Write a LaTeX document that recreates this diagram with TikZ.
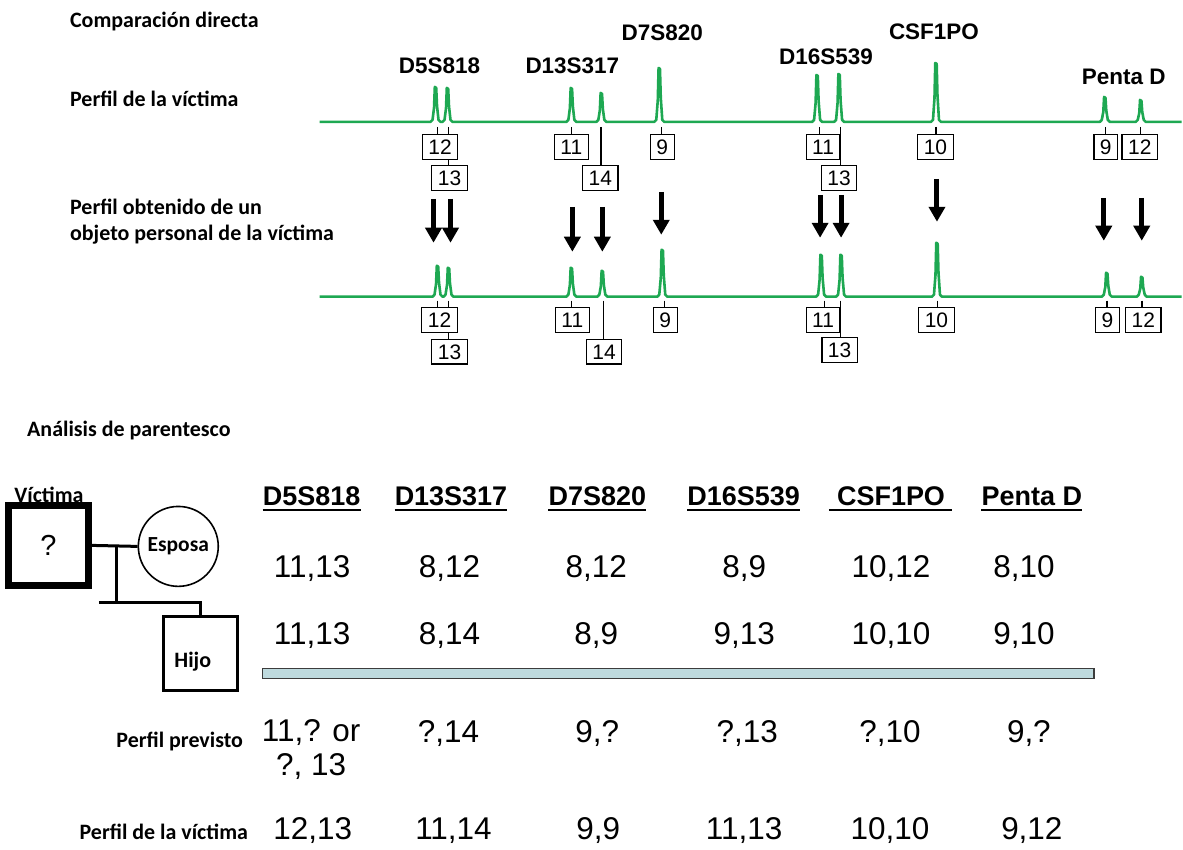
\documentclass[tikz,border=0pt]{standalone}
\usepackage{fontspec}
\setmainfont{Liberation Sans}
\newfontfamily\calibri{Carlito}
\usetikzlibrary{arrows.meta}
\definecolor{tracegreen}{RGB}{30,168,82}
\definecolor{barfill}{RGB}{190,218,222}
\definecolor{bardraw}{RGB}{60,60,60}
\pgfdeclarelayer{bg}
\pgfsetlayers{bg,main}
\begin{document}
\begin{tikzpicture}[x=1pt,y=-1pt,
 lab/.style={font=\calibri\bfseries\fontsize{22}{26}\selectfont, inner sep=0pt, align=left},
 marker/.style={font=\bfseries\fontsize{22.5}{24}\selectfont, inner sep=0pt, anchor=base},
 allele/.style={draw, line width=1.2pt, fill=white, font=\fontsize{21}{21}\selectfont, text height=15pt, text depth=0pt, minimum height=25pt, inner xsep=6pt, inner ysep=0pt},
 tickline/.style={line width=1.2pt},
 tracel/.style={draw=tracegreen, line width=2.6pt, line join=round},
 bigarrow/.style={line width=5pt, -{Triangle[width=16pt,length=15pt]}},
 hdr/.style={font=\bfseries\fontsize{27}{27}\selectfont, inner sep=0pt, anchor=base},
 val/.style={font=\fontsize{31.5}{34}\selectfont, inner sep=0pt, anchor=base, align=center},
 ped/.style={line width=3pt},
]
\begin{pgfonlayer}{bg}
\useasboundingbox[fill=white] (0,0) rectangle (1183,850);
\end{pgfonlayer}

% ---------- titles and labels ----------
\node[lab, anchor=base west] (t1) at (70,27.5) {Comparación directa};
\node[lab, anchor=base west] (t2) at (70,107) {Perfil de la víctima};
\node[lab, anchor=base west] (t3) at (70,240.7) {Perfil obtenido de un\\objeto personal de la víctima};
\node[lab, anchor=base west] (t4) at (27,437) {Análisis de parentesco};

% ---------- marker names ----------
\node[marker] (m1) at (440,73.3) {D5S818};
\node[marker] (m2) at (573,73.3) {D13S317};
\node[marker] (m3) at (663,41) {D7S820};
\node[marker] (m4) at (827,65) {D16S539};
\node[marker] (m5) at (935,40) {CSF1PO};
\node[marker] (m6) at (1125,85) {Penta D};

% ---------- traces ----------
\draw[tracel] (320,122)
 foreach \x/\t in {436/87,448/88,572/88,602/93,660/68,818/75,840/74,937/63,1106/97,1142/100}
 { -- ({\x-5},122) -- ({\x-3},120) -- ({\x-1.5},{122-0.4*(122-\t)}) -- ({\x-0.7},\t) -- ({\x+0.7},{\t+1}) -- ({\x+1.5},{122-0.45*(122-\t)}) -- ({\x+3},120) -- ({\x+5},122) }
 -- (1183,122);
\draw[tracel] (320,297)
 foreach \x/\t in {438/266,449/268,572/268,603/271,663/250,822/255,842/255,938/243,1108/273,1143/277}
 { -- ({\x-5},297) -- ({\x-3},295) -- ({\x-1.5},{297-0.4*(297-\t)}) -- ({\x-0.7},\t) -- ({\x+0.7},{\t+1}) -- ({\x+1.5},{297-0.45*(297-\t)}) -- ({\x+3},295) -- ({\x+5},297) }
 -- (1183,297);

% ---------- allele boxes, top ----------
\node[allele] (a1) at (440.5,147) {12};
\node[allele] (a2) at (450,178) {13};
\node[allele] (a3) at (572,147) {11};
\node[allele] (a4) at (601,178) {14};
\node[allele] (a5) at (663,147) {9};
\node[allele] (a6) at (824,147) {11};
\node[allele] (a7) at (840,178) {13};
\node[allele] (a8) at (936.5,147) {10};
\node[allele] (a9) at (1107,147) {9};
\node[allele] (a10) at (1141,147) {12};
% ---------- allele boxes, bottom ----------
\node[allele] (b1) at (440,320.5) {12};
\node[allele] (b2) at (450,352) {13};
\node[allele] (b3) at (573,320.5) {11};
\node[allele] (b4) at (604.7,352) {14};
\node[allele] (b5) at (666,320.5) {9};
\node[allele] (b6) at (824,320) {11};
\node[allele] (b7) at (840.5,350) {13};
\node[allele] (b8) at (937.5,320) {10};
\node[allele] (b9) at (1108.7,320) {9};
\node[allele] (b10) at (1144.5,320) {12};

% ---------- tick lines ----------
\foreach \n/\x in {1/438,2/449,3/572,4/601.7,5/662,6/820,7/841.7,8/937,9/1106.7,10/1141.7}
  \coordinate (ta\n) at (\x,127);
\foreach \n/\x in {1/437.7,2/449.3,3/572.3,4/604,5/665.3,6/825,7/841.7,8/938.3,9/1108.3,10/1143.3}
  \coordinate (tb\n) at (\x,301);
\begin{pgfonlayer}{bg}
\foreach \n in {1,...,10} {
  \draw[tickline] (ta\n) -- (ta\n |- a\n.north);
  \draw[tickline] (tb\n) -- (tb\n |- b\n.north);
}
\end{pgfonlayer}

% ---------- arrows ----------
\foreach \n/\x/\ya/\yb in {1/434/199/243,2/451/199/243,3/573/207/252,4/603/207/252,5/662/192/235,6/821/195/238,7/842/195/238,8/938/179/222,9/1105/198/241,10/1143/198/241} {
  \coordinate (ps\n) at (\x,\ya);
  \coordinate (pe\n) at (\x,\yb);
  \draw[bigarrow] (ps\n) -- (pe\n);
}

% ---------- pedigree ----------
\node[lab, anchor=center] (vl) at (49,495) {Víctima};
\node[draw, line width=7pt, minimum size=80pt, inner sep=0pt, font=\fontsize{29}{29}\selectfont] (victim) at (48.5,546) {?};
\node[draw, circle, line width=1.6pt, minimum size=80pt, inner sep=0pt, font=\calibri\bfseries\fontsize{21.5}{21.5}\selectfont] (spouse) at (178.5,547) {Esposa};
\node[draw, line width=3pt, minimum size=74pt, inner sep=0pt] (hijo) at (200.8,654) {};
\node[lab, anchor=center] (hl) at (193,662) {Hijo};
\coordinate (mate) at (116.7,546);
\coordinate (sib) at (116.7,602.7);
\coordinate (sibL) at (99,602.7);
\coordinate (sibR) at (200.8,602.7);
\draw[ped] (victim.east) -- (spouse.west);
\draw[ped] (mate) -- (sib);
\draw[ped] (sibL) -- (sibR) -- (hijo.north);

% ---------- table ----------
\foreach \n/\x/\t in {1/312/D5S818,2/451.5/D13S317,3/598/D7S820,4/744.5/D16S539,5/892/CSF1PO,6/1033/Penta D} {
  \node[hdr] (h\n) at (\x,506.5) {\t};
}
\foreach \n in {1,2,3,4,6}
  \draw[line width=1.8pt] ([yshift=-4pt]h\n.base west) -- ([yshift=-4pt]h\n.base east);
\draw[line width=1.8pt] ([yshift=-4pt,xshift=-8pt]h5.base west) -- ([yshift=-4pt,xshift=7pt]h5.base east);

\foreach \n/\x/\t in {1/312.5/{11,13},2/450/{8,12},3/597/{8,12},4/745/{8,9},5/892/{10,12},6/1025/{8,10}}
  \node[val] (r1c\n) at (\x,578) {\t};
\foreach \n/\x/\t in {1/312.5/{11,13},2/450/{8,14},3/597/{8,9},4/745/{9,13},5/892/{10,10},6/1025/{9,10}}
  \node[val] (r2c\n) at (\x,645) {\t};

\node[draw=bardraw, fill=barfill, line width=1.5pt, minimum width=832pt, minimum height=10pt, inner sep=0pt] (bar) at (679,674) {};

\node[lab, anchor=base east] (lp) at (243.5,748) {Perfil previsto};
\node[val] (r3c1) at (311.5,776.7) {11,? or\\?, 13};
\foreach \n/\x/\t in {2/449/{?,14},3/598/{9,?},4/748/{?,13},5/891/{?,10},6/1030/{9,?}}
  \node[val] (r3c\n) at (\x,743) {\t};

\node[lab, anchor=base east] (lv) at (248.5,840) {Perfil de la víctima};
\foreach \n/\x/\t in {1/313/{12,13},2/454/{11,14},3/599/{9,9},4/745/{11,13},5/891/{10,10},6/1033/{9,12}}
  \node[val] (r4c\n) at (\x,840) {\t};
\end{tikzpicture}
\end{document}
